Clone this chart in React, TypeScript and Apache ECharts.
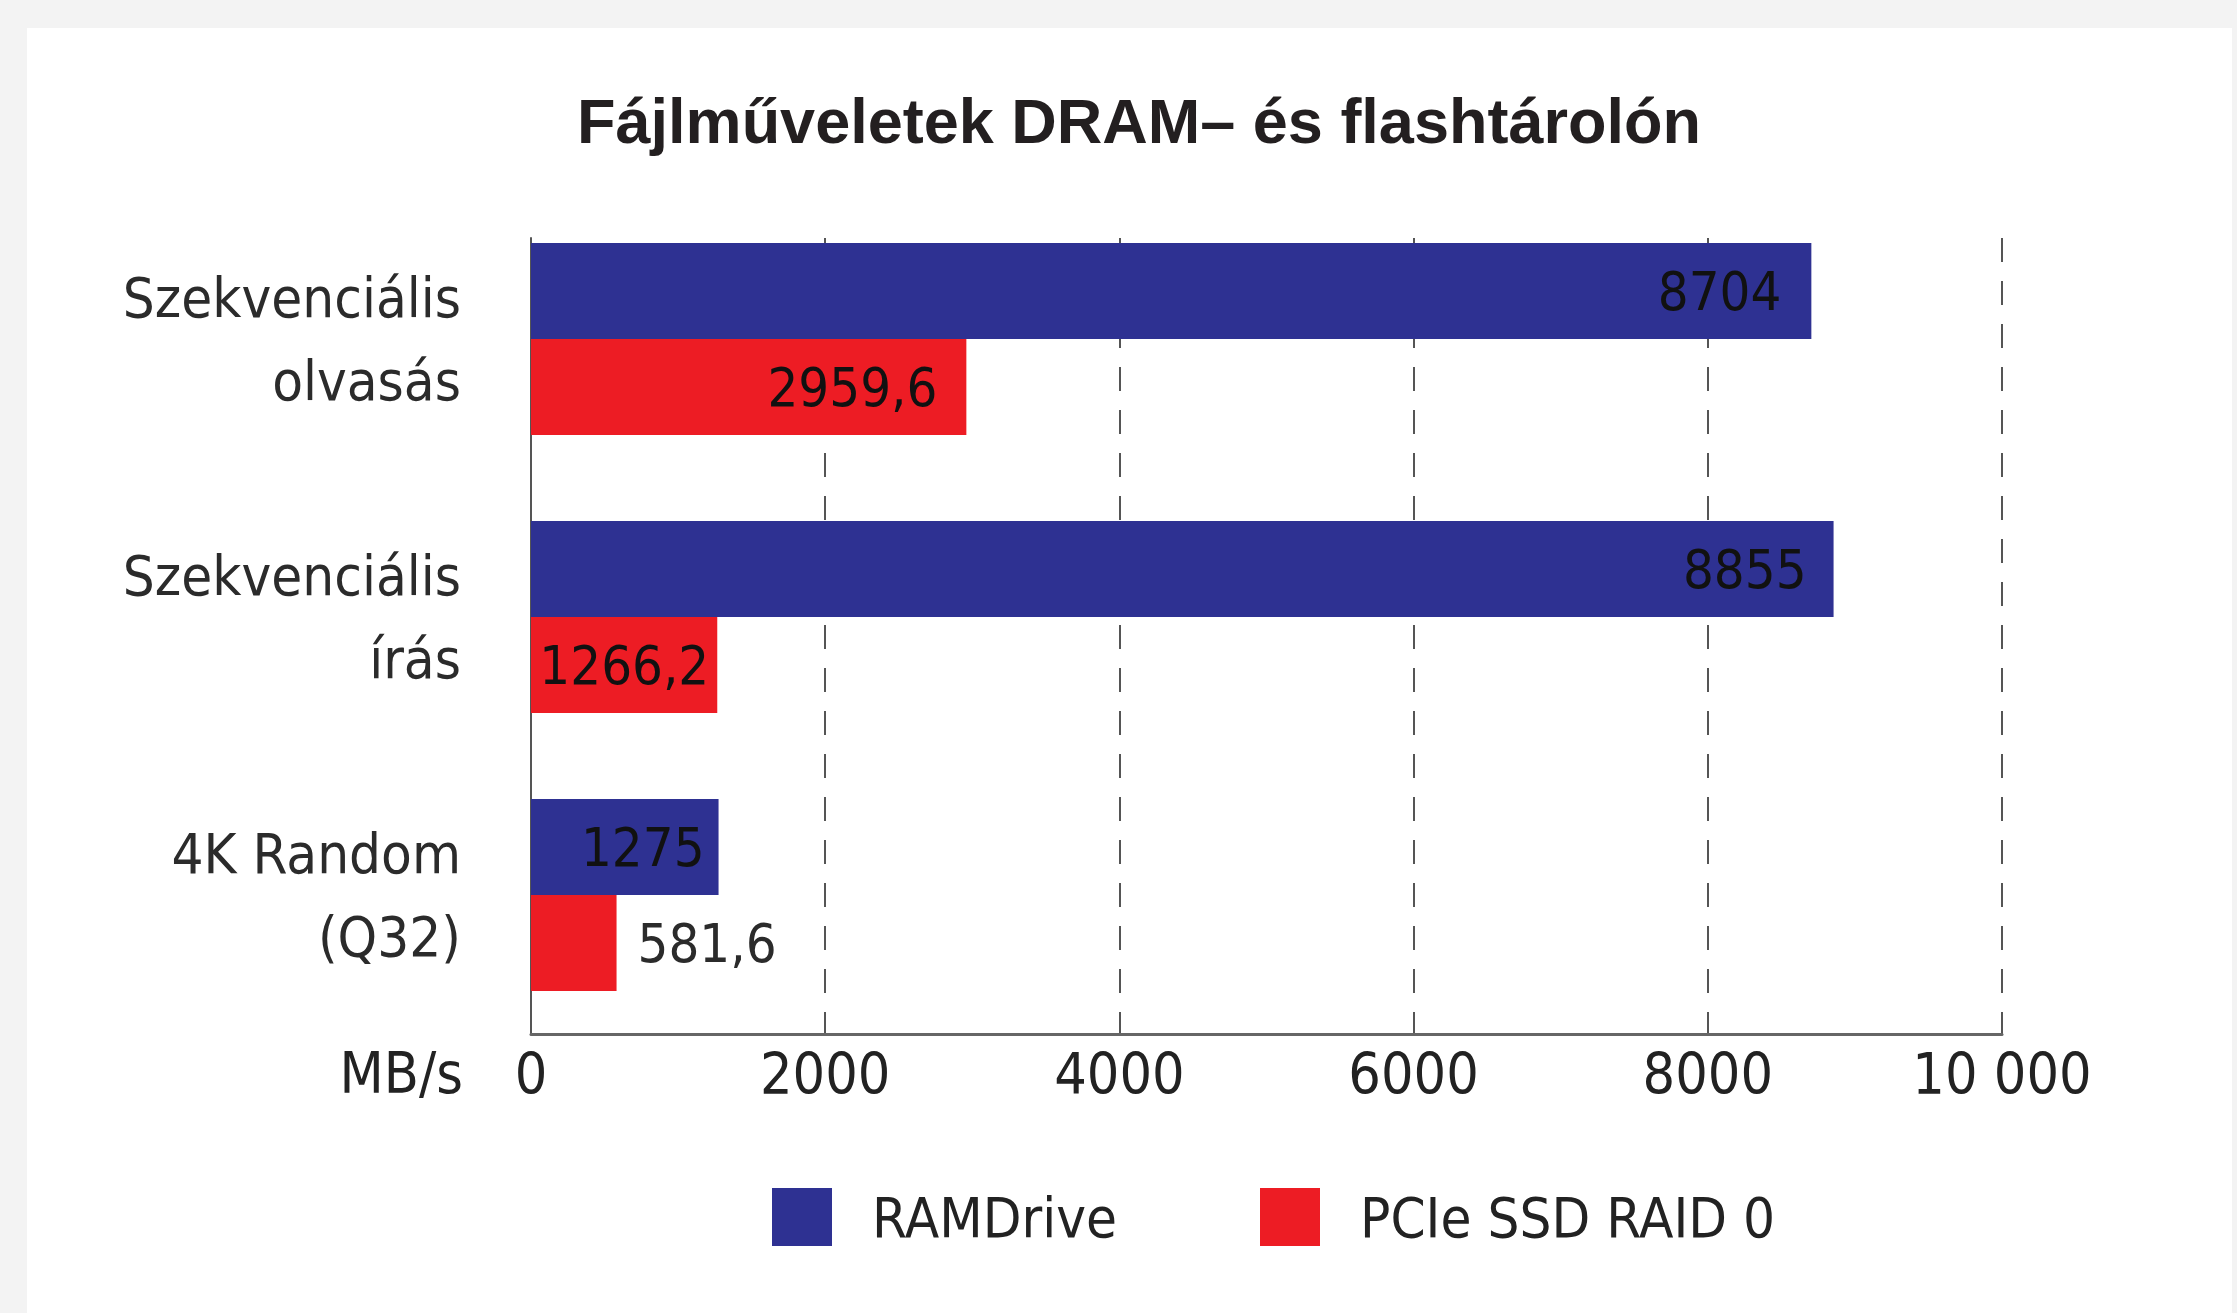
import React, { useEffect, useRef } from "react";
import * as echarts from "echarts";

const title = "Fájlműveletek DRAM– és flashtárolón";
const categories = ["Szekvenciális\nolvasás", "Szekvenciális\nírás", "4K Random\n(Q32)"];
const seriesNames = ["RAMDrive", "PCIe SSD RAID 0"];
const ramDrive = [8704, 8855, 1275];
const pcieRaid = [2959.6, 1266.2, 581.6];
const tickLabels = ["0", "2000", "4000", "6000", "8000", "10 000"];
const axisUnit = "MB/s";

const NARROW = "'Liberation Sans Narrow', 'DejaVu Sans Condensed', 'Arial Narrow', sans-serif";

export default function App() {
  const ref = useRef<HTMLDivElement>(null);

  useEffect(() => {
    document.body.style.margin = "0";
    const chart = echarts.init(ref.current!, null, { renderer: "svg" });

    const fmt = (v: number) => String(v).replace(".", ",");
    const ramDist = [30, 27, 14];
    const pcieDist = [29, 8, 21];
    const pcieOutside = [false, false, true];

    const legendCommon = {
      top: 1183,
      itemWidth: 60,
      itemHeight: 58,
      icon: "rect",
      selectedMode: false,
      textStyle: { fontFamily: NARROW, fontSize: 56, color: "#222", padding: [0, 0, 0, 35] },
    };

    const option: any = {
      animation: false,
      backgroundColor: "#f3f3f3",
      graphic: [
        {
          type: "rect",
          z: -10,
          shape: { x: 27, y: 28, width: 2205, height: 1300 },
          style: { fill: "#ffffff" },
          silent: true,
        },
      ],
      title: {
        text: title,
        left: 1134,
        textAlign: "center",
        top: 84,
        textStyle: {
          fontFamily: "'Liberation Sans', Arial, sans-serif",
          fontWeight: "bold",
          fontSize: 63,
          color: "#231f20",
        },
      },
      legend: [
        { ...legendCommon, data: [seriesNames[0]], left: 767 },
        { ...legendCommon, data: [seriesNames[1]], left: 1255 },
      ],
      grid: [
        { left: 531, right: 235, top: 200, bottom: 279, containLabel: false },
        { left: 531, right: 235, top: 238, bottom: 279, containLabel: false },
      ],
      xAxis: [
        {
          type: "value",
          gridIndex: 0,
          min: 0,
          max: 10000,
          interval: 2000,
          name: axisUnit,
          nameLocation: "start",
          nameGap: 68,
          nameTextStyle: {
            fontFamily: NARROW,
            fontSize: 57,
            color: "#222",
            verticalAlign: "top",
            lineHeight: 70,
            padding: [4, 0, 0, 0],
          },
          axisLine: { show: true, lineStyle: { color: "#666", width: 3 } },
          axisTick: { show: false },
          axisLabel: {
            margin: 5,
            fontFamily: NARROW,
            fontSize: 57,
            lineHeight: 70,
            color: "#222",
            formatter: (v: number) => tickLabels[Math.round(v / 2000)] ?? String(v),
          },
          splitLine: { show: false },
        },
        {
          type: "value",
          gridIndex: 1,
          min: 0,
          max: 10000,
          interval: 2000,
          axisLine: { show: false },
          axisTick: { show: false },
          axisLabel: { show: false },
          splitLine: { show: true, lineStyle: { color: "#555", width: 2, type: [24, 19] } },
        },
      ],
      yAxis: [
        {
          type: "category",
          gridIndex: 0,
          data: categories,
          inverse: true,
          axisLine: { show: false },
          axisTick: { show: false },
          axisLabel: {
            margin: 70,
            fontFamily: NARROW,
            fontSize: 56,
            lineHeight: 83,
            padding: [0, 0, 14, 0],
            color: "#2b2b2b",
            align: "right",
          },
          splitLine: { show: false },
        },
        {
          type: "value",
          gridIndex: 1,
          min: 0,
          max: 1,
          axisLine: { show: true, onZero: false, lineStyle: { color: "#555", width: 2 } },
          axisTick: { show: false },
          axisLabel: { show: false },
          splitLine: { show: false },
        },
      ],
      series: [
        {
          name: seriesNames[0],
          type: "bar",
          xAxisIndex: 0,
          yAxisIndex: 0,
          barWidth: 96,
          barGap: "0%",
          itemStyle: { color: "#2E3192" },
          data: ramDrive.map((v, i) => ({
            value: v,
            label: { distance: ramDist[i] },
          })),
          label: {
            show: true,
            position: "insideRight",
            fontFamily: NARROW,
            fontSize: 54,
            color: "#111",
            formatter: (p: any) => fmt(p.value),
          },
        },
        {
          name: seriesNames[1],
          type: "bar",
          xAxisIndex: 0,
          yAxisIndex: 0,
          barWidth: 96,
          barGap: "0%",
          itemStyle: { color: "#ED1C24" },
          data: pcieRaid.map((v, i) => ({
            value: v,
            label: {
              distance: pcieDist[i],
              position: pcieOutside[i] ? "right" : "insideRight",
              color: pcieOutside[i] ? "#2b2b2b" : "#111",
            },
          })),
          label: {
            show: true,
            position: "insideRight",
            fontFamily: NARROW,
            fontSize: 54,
            color: "#111",
            formatter: (p: any) => fmt(p.value),
          },
        },
      ],
    };

    chart.setOption(option);
    return () => chart.dispose();
  }, []);

  return (
    <div
      ref={ref}
      style={{ position: "absolute", left: 0, top: 0, width: 2237, height: 1313 }}
    />
  );
}
